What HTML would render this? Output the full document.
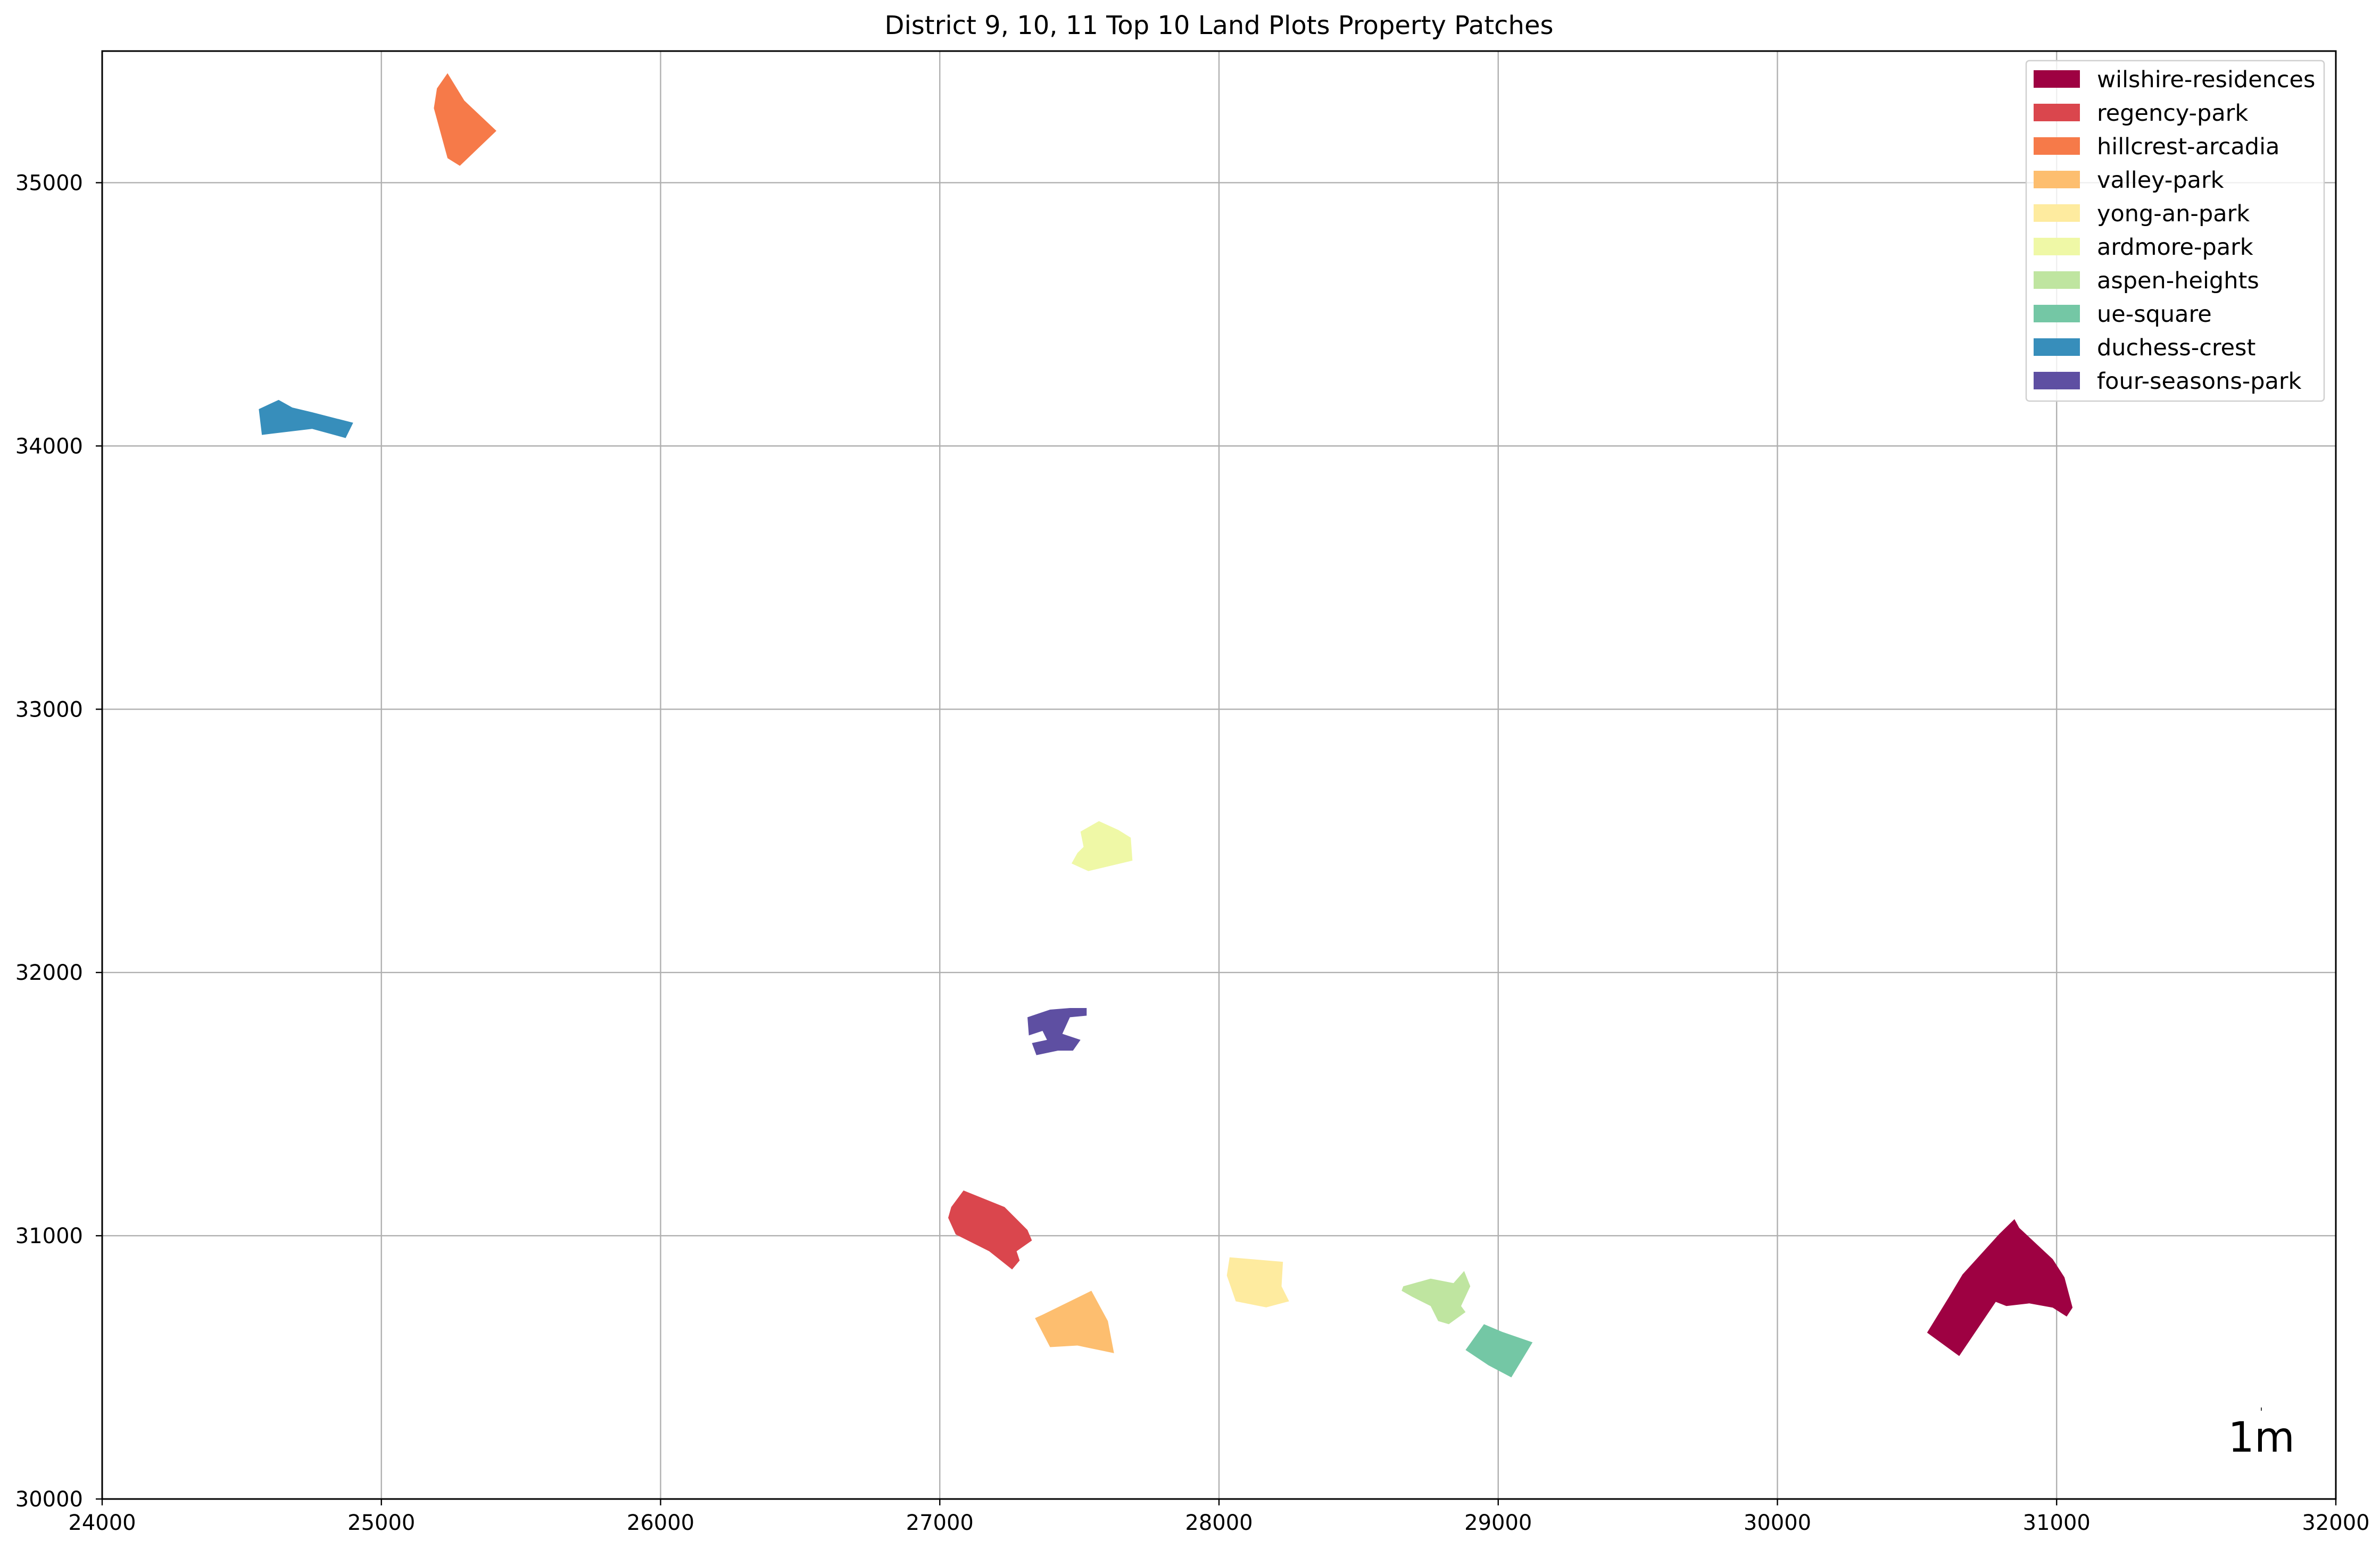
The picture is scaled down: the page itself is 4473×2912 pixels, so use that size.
<!DOCTYPE html>
<html><head><meta charset="utf-8"><style>
html,body{margin:0;padding:0;background:#fff;}
svg{display:block;font-family:"DejaVu Sans","Liberation Sans",sans-serif;}
</style></head><body>
<svg id="chart" width="4473" height="2912" viewBox="0 0 4473 2912" xmlns="http://www.w3.org/2000/svg">
<rect width="4473" height="2912" fill="#fff"/>
<text x="2291" y="64" font-size="48" text-anchor="middle">District 9, 10, 11 Top 10 Land Plots Property Patches</text>
<g id="grid"></g>
<g id="plots"></g>
<rect x="192" y="96" width="4198" height="2722" fill="none" stroke="#000" stroke-width="3"/>
<g id="axes"></g>
<g id="legend"></g>
<line x1="4250" y1="2646" x2="4250" y2="2652" stroke="#000" stroke-width="1.5"/>
<text x="4250" y="2729" font-size="78" text-anchor="middle">1m</text>
</svg>
<script>
const xTicks = [24000,25000,26000,27000,28000,29000,30000,31000,32000];
const yTicks = [30000,31000,32000,33000,34000,35000];
const plotNames = ["wilshire-residences","regency-park","hillcrest-arcadia","valley-park","yong-an-park","ardmore-park","aspen-heights","ue-square","duchess-crest","four-seasons-park"];
const plotColors = ["#9e0142","#da464d","#f67a49","#fdbe6f","#feeb9f","#eff8a6","#bfe5a0","#74c7a5","#378ebb","#5e4fa2"];
const wilshire = [[30536,30632],[30651,30543],[30782,30749],[30820,30733],[30902,30743],[30986,30727],[31036,30693],[31057,30727],[31028,30842],[30986,30911],[30866,31030],[30849,31063],[30794,31006],[30663,30853],[30615,30768]];
const regency = [[27085,31172],[27232,31109],[27314,31022],[27330,30982],[27275,30941],[27286,30906],[27259,30872],[27177,30941],[27057,31005],[27030,31068],[27041,31109]];
const hillcrest = [[25237,35416],[25297,35312],[25412,35197],[25281,35064],[25237,35093],[25188,35283],[25199,35358]];
const valley = [[27341,30687],[27368,30700],[27543,30791],[27602,30676],[27624,30554],[27493,30583],[27395,30577]];
const yongan = [[28038,30918],[28229,30901],[28224,30808],[28251,30751],[28169,30728],[28060,30751],[28028,30849]];
const ardmore = [[27504,32535],[27570,32575],[27640,32541],[27684,32512],[27690,32425],[27532,32385],[27472,32414],[27493,32454],[27515,32477]];
const aspen = [[28660,30808],[28758,30837],[28840,30820],[28878,30866],[28900,30808],[28867,30733],[28883,30710],[28823,30664],[28785,30676],[28758,30733],[28692,30768],[28654,30791]];
const uesquare = [[28883,30566],[28949,30664],[29014,30635],[29123,30595],[29047,30462],[28965,30508]];
const duchess = [[24561,34140],[24632,34175],[24681,34146],[24752,34128],[24899,34088],[24872,34030],[24752,34065],[24572,34042]];
const fourseasons = [[27314,31830],[27395,31859],[27466,31865],[27526,31865],[27526,31836],[27466,31830],[27439,31767],[27504,31744],[27477,31703],[27423,31703],[27346,31686],[27330,31732],[27384,31744],[27368,31778],[27319,31761]];
const plotShapes = [wilshire,regency,hillcrest,valley,yongan,ardmore,aspen,uesquare,duchess,fourseasons];

const NS = "http://www.w3.org/2000/svg";
const L=192,R=4390,T=96,B=2818, X0=24000,X1=32000,Y0=30000,Y1=35500;
function sx(v){return L+(v-X0)/(X1-X0)*(R-L);}
function sy(v){return B-(v-Y0)/(Y1-Y0)*(B-T);}
function mk(tag,attrs,parent){const e=document.createElementNS(NS,tag);for(const k in attrs)e.setAttribute(k,attrs[k]);parent.appendChild(e);return e;}
const grid=document.getElementById('grid'),axes=document.getElementById('axes'),plots=document.getElementById('plots'),legend=document.getElementById('legend');
xTicks.forEach(t=>{
  const g=mk('line',{x1:sx(t),x2:sx(t),y1:T,y2:B,stroke:'#b0b0b0','stroke-width':2.4},grid);
  
  
  const tk=mk('line',{x1:sx(t),x2:sx(t),y1:B,y2:B+12,stroke:'#000','stroke-width':2.4},axes);
  
  
  const lb=mk('text',{x:sx(t),y:B+58,'font-size':40,'text-anchor':'middle'},axes);
  lb.textContent=t;
  
  
});
yTicks.forEach(t=>{
  const g=mk('line',{x1:L,x2:R,y1:sy(t),y2:sy(t),stroke:'#b0b0b0','stroke-width':2.4},grid);
  
  
  const tk=mk('line',{x1:L-12,x2:L,y1:sy(t),y2:sy(t),stroke:'#000','stroke-width':2.4},axes);
  
  
  const lb=mk('text',{x:L-36,y:sy(t)+14,'font-size':40,'text-anchor':'end'},axes);
  lb.textContent=t;
  
  
});
plotShapes.forEach((pts,i)=>{
  const p=mk('polygon',{points:pts.map(q=>sx(q[0])+','+sy(q[1])).join(' '),fill:plotColors[i]},plots);
  
  
});
const lb=mk('rect',{x:3808,y:114,width:560,height:640,rx:6,fill:'#fff','fill-opacity':0.8,stroke:'#d0d0d0','stroke-width':2.5},legend);


plotNames.forEach((n,i)=>{
  const y=132+i*63;
  const sw=mk('rect',{x:3822,y:y,width:87,height:33,fill:plotColors[i]},legend);
  
  
  const t=mk('text',{x:3941,y:y+32,'font-size':43},legend);
  t.textContent=n;
  
  
});
</script>
</body></html>
